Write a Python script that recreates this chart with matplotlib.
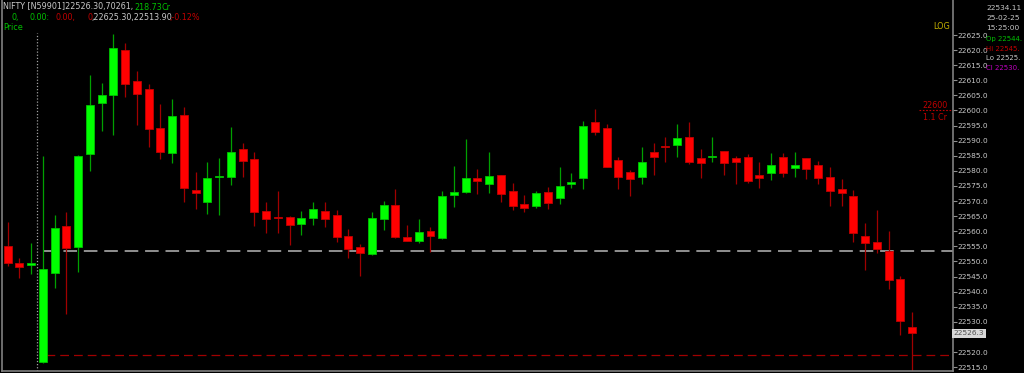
import matplotlib
matplotlib.use("Agg")
import matplotlib.pyplot as plt
import numpy as np

# 5-minute NIFTY candles
opens = [22555.1, 22549.4, 22549.0, 22516.6, 22546.3, 22561.8, 22554.9, 22585.6, 22602.4, 22605.0,
         22620.0, 22609.8, 22607.0, 22594.3, 22586.0, 22598.5, 22573.7, 22569.8, 22577.9, 22578.1,
         22587.2, 22583.9, 22566.7, 22564.6, 22564.8, 22562.4, 22564.5, 22566.7, 22565.4, 22558.4,
         22554.9, 22552.4, 22564.2, 22568.7, 22558.2, 22556.9, 22560.2, 22557.7, 22571.9, 22573.0,
         22577.6, 22575.7, 22578.5, 22573.4, 22568.9, 22568.5, 22573.1, 22570.9, 22575.8, 22577.6,
         22596.3, 22594.3, 22583.6, 22579.7, 22578.1, 22586.3, 22588.1, 22588.5, 22591.3, 22584.2,
         22584.5, 22586.6, 22584.4, 22584.6, 22578.7, 22579.4, 22584.5, 22580.9, 22584.2, 22582.0,
         22578.1, 22574.0, 22571.8, 22558.4, 22556.4, 22553.5, 22544.2, 22528.4]
highs = [22563.2, 22551.1, 22556.0, 22584.9, 22565.4, 22566.5, 22585.3, 22611.8, 22609.2, 22625.3,
         22622.3, 22613.2, 22608.7, 22602.2, 22603.8, 22601.3, 22579.7, 22583.0, 22584.4, 22594.4,
         22589.1, 22586.2, 22569.6, 22573.4, 22564.9, 22566.8, 22569.8, 22569.8, 22567.1, 22560.7,
         22555.7, 22566.3, 22570.1, 22573.9, 22562.0, 22564.2, 22561.3, 22573.4, 22581.6, 22590.5,
         22580.6, 22586.4, 22578.6, 22575.9, 22572.0, 22573.3, 22574.6, 22581.4, 22579.2, 22596.5,
         22600.5, 22595.5, 22584.7, 22580.3, 22588.0, 22589.1, 22591.1, 22595.4, 22596.1, 22587.3,
         22591.1, 22586.7, 22584.9, 22585.5, 22582.8, 22585.8, 22585.8, 22586.2, 22584.3, 22583.4,
         22581.4, 22577.2, 22573.7, 22562.8, 22567.1, 22560.2, 22545.3, 22533.2]
lows = [22548.6, 22544.4, 22545.9, 22516.4, 22541.1, 22532.6, 22546.6, 22580.1, 22593.2, 22591.9,
        22604.4, 22595.2, 22587.8, 22583.9, 22582.5, 22569.8, 22567.3, 22565.6, 22565.4, 22575.3,
        22578.1, 22561.8, 22559.3, 22559.3, 22555.5, 22558.8, 22562.1, 22561.3, 22556.6, 22551.1,
        22545.2, 22552.3, 22560.4, 22557.9, 22556.8, 22556.2, 22553.2, 22557.6, 22568.1, 22572.6,
        22572.4, 22572.6, 22569.8, 22567.1, 22566.5, 22567.6, 22567.3, 22569.0, 22574.2, 22574.1,
        22592.0, 22581.2, 22574.0, 22571.7, 22575.7, 22578.6, 22583.0, 22584.5, 22582.3, 22577.7,
        22582.8, 22578.6, 22575.6, 22576.1, 22574.4, 22577.0, 22578.1, 22578.1, 22577.3, 22575.7,
        22568.4, 22568.5, 22556.6, 22547.2, 22552.9, 22540.8, 22525.6, 22513.9]
closes = [22549.4, 22548.3, 22549.2, 22547.4, 22561.1, 22554.4, 22584.9, 22601.7, 22605.0, 22620.8,
          22608.8, 22605.4, 22593.9, 22586.4, 22598.3, 22574.2, 22572.6, 22577.6, 22578.1, 22586.2,
          22583.4, 22566.3, 22564.2, 22564.4, 22562.0, 22564.5, 22567.4, 22564.1, 22558.2, 22554.1,
          22552.9, 22564.4, 22568.7, 22558.0, 22556.9, 22559.7, 22558.4, 22571.8, 22573.0, 22577.7,
          22576.6, 22578.3, 22572.4, 22568.5, 22567.8, 22572.6, 22569.3, 22575.0, 22576.4, 22595.0,
          22593.0, 22581.4, 22578.1, 22577.2, 22582.8, 22584.7, 22587.9, 22590.9, 22583.0, 22582.7,
          22584.7, 22582.5, 22582.9, 22576.8, 22577.5, 22582.0, 22579.2, 22582.0, 22580.6, 22577.7,
          22573.4, 22572.8, 22559.3, 22556.2, 22554.1, 22543.9, 22530.2, 22526.3]

prev_close_level = 22553.6
day_low_level = 22519.0
alert_level = 22600
ticks = np.arange(22515, 22626, 5)

W, H = 1024, 373
fig = plt.figure(figsize=(W / 100, H / 100), dpi=100, facecolor="black")
ax = fig.add_axes([2 / W, 2 / H, 951 / W, 371 / H], facecolor="black")

x = np.arange(len(opens))
o = np.array(opens)
c = np.array(closes)
up = c >= o
body_lo = np.minimum(o, c)
body_h = np.maximum(np.abs(c - o), 0.4)

wick_cols = np.where(up, "#00a000", "#a00000")
ax.vlines(x, lows, highs, colors=wick_cols, linewidth=0.9, zorder=2)
ax.bar(x[up], body_h[up], bottom=body_lo[up], width=0.68,
       color="#00ff00", edgecolor="#00c000", linewidth=0.6, zorder=3)
ax.bar(x[~up], body_h[~up], bottom=body_lo[~up], width=0.68,
       color="#ff0000", edgecolor="#c00000", linewidth=0.6, zorder=3)

ax.set_xlim(-0.485, 80.49)
ax.set_ylim(22513.74, 22636.59)

# reference lines
ax.hlines(prev_close_level, 3.0, 80.49, colors="#909090", linestyles=(0, (7, 3.5)), linewidth=1.4, zorder=1)
ax.hlines(day_low_level, 3.3, 80.49, colors="#a00000", linestyles=(0, (7, 4)), linewidth=0.9, zorder=1)
ax.vlines(2.5, 22513.74, 22625.5, colors="#a0a0a0", linestyles=(0, (1, 1.5)), linewidth=0.9, zorder=1)
ax.hlines(alert_level, 77.6, 80.49, colors="#c00000", linestyles=(0, (1.5, 1.5)), linewidth=0.8)
ax.text(80.0, alert_level + 1.6, "22600", color="#c00000", fontsize=5.8, ha="right", va="center")
ax.text(80.0, alert_level - 2.2, "1.1 Cr", color="#c00000", fontsize=5.8, ha="right", va="center")
ax.text(80.2, 22627.7, "LOG", color="#c8b400", fontsize=5.8, ha="right", va="center")

# right price scale (the 22525 label sits under the last-price box)
ax.yaxis.tick_right()
ax.set_yticks(ticks)
ax.set_yticklabels(["" if t == 22525 else "%.1f" % t for t in ticks])
ax.tick_params(axis="y", colors="#909090", labelcolor="#c8c8c8", labelsize=5.3, length=3, width=0.8, pad=0.5)
ax.set_xticks([])
for side in ["left", "right", "bottom"]:
    ax.spines[side].set_color("#808080")
    ax.spines[side].set_linewidth(1.2)
ax.spines["top"].set_visible(False)

ax.text(80.55, closes[-1], "%.1f" % closes[-1], color="#505050", fontsize=5.3, va="center", ha="left",
        bbox=dict(boxstyle="square,pad=0.2", facecolor="#d8d8d8", edgecolor="none"))


def ftext(px, py, s, col, size=5.8):
    fig.text(px / W, 1 - py / H, s, color=col, fontsize=size, va="center", ha="left")


# header
ftext(3, 7, "NIFTY [N59901]22526.30,70261,", "#c8c8c8")
ftext(134, 7, "218.73", "#00c000")
ftext(161, 7, "Cr", "#00c000")
ftext(11, 17.5, "0,", "#00c000")
ftext(30, 17.5, "0.00:", "#00c000")
ftext(55, 17.5, "0.00,", "#c00000")
ftext(87, 17.5, "0", "#c00000")
ftext(91, 17.5, ",22625.30,22513.90", "#c8c8c8")
ftext(169, 17.5, ",-0.12%", "#c00000")
ftext(3, 28, "Price", "#00c000")

# info box, top right
ftext(986, 7.5, "22534.11", "#c8c8c8", 5.3)
ftext(986, 18, "25-02-25", "#c8c8c8", 5.3)
ftext(986, 28.5, "15:25:00", "#c8c8c8", 5.3)
ftext(986, 39, "Op 22544.", "#00c000", 5.0)
ftext(986, 49, "Hi 22545.", "#c00000", 5.0)
ftext(986, 58.5, "Lo 22525.", "#c8c8c8", 5.0)
ftext(986, 68.5, "Cl 22530.", "#c000c0", 5.0)

fig.savefig("out.png", dpi=100, facecolor="black")
